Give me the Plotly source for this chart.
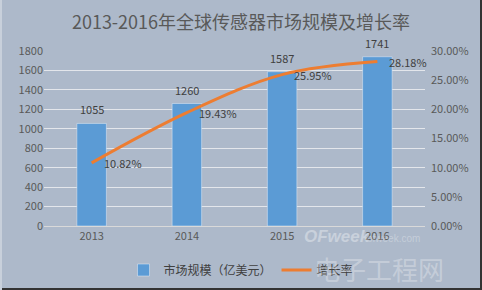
import plotly.graph_objects as go

years = ["2013", "2014", "2015", "2016"]
market = [1055, 1260, 1587, 1741]
growth = [0.1082, 0.1943, 0.2595, 0.2818]
growth_labels = ["10.82%", "19.43%", "25.95%", "28.18%"]

title = "2013-2016年全球传感器市场规模及增长率"
bar_name = "市场规模（亿美元）"
line_name = "增长率"

FONT = "Noto Sans CJK SC, Open Sans, sans-serif"
BG = "#adb9ca"
TXT = "#404040"
TICK = "#595959"
W, H = 482, 290
ML, MR, MT, MB = 44, 57, 51, 64
PW, PH = W - ML - MR, H - MT - MB


def px(x):
    return (x - ML) / PW


def py(y):
    return (H - MB - y) / PH


fig = go.Figure()
fig.add_trace(go.Bar(
    x=years, y=market, name=bar_name, marker_color="#5b9bd5",
    width=0.31, yaxis="y",
))
fig.add_trace(go.Scatter(
    x=years, y=growth, name=line_name, mode="lines",
    line=dict(color="#ed7d31", width=3, shape="spline", smoothing=1.0),
    yaxis="y2",
))

annotations = []
for i, v in enumerate(market):
    annotations.append(dict(x=i, y=v, xref="x", yref="y", text=str(v),
                            showarrow=False, yanchor="bottom", yshift=4,
                            font=dict(size=11, color=TXT, family=FONT)))
for i, (v, t) in enumerate(zip(growth, growth_labels)):
    annotations.append(dict(x=i, y=v, xref="x", yref="y2", text=t,
                            showarrow=False, xanchor="left", xshift=10,
                            yanchor="middle",
                            font=dict(size=11, color=TXT, family=FONT)))

# watermark
annotations += [
    dict(x=px(302), y=py(236), xref="paper", yref="paper", text="<b><i>OFweek</i></b>",
         showarrow=False, xanchor="left", yanchor="middle",
         font=dict(size=17, color="rgba(255,255,255,0.35)", family="Liberation Sans")),
    dict(x=px(365), y=py(238), xref="paper", yref="paper", text="ofweek.com",
         showarrow=False, xanchor="left", yanchor="middle",
         font=dict(size=10, color="rgba(255,255,255,0.3)", family="Liberation Sans")),
    dict(x=px(312), y=py(268), xref="paper", yref="paper", text="电子工程网",
         showarrow=False, xanchor="left", yanchor="middle",
         font=dict(size=26, color="rgba(255,255,255,0.3)", family=FONT)),
]

fig.update_layout(
    width=W, height=H,
    margin=dict(l=ML, r=MR, t=MT, b=MB),
    paper_bgcolor=BG, plot_bgcolor=BG,
    font=dict(family=FONT, size=11, color=TICK),
    title=dict(text=title, x=0.5, xanchor="center", xref="container",
               y=1 - 23 / H, yref="container", yanchor="middle",
               font=dict(size=18, color=TICK, family=FONT)),
    xaxis=dict(type="category", range=[-0.5, len(years) - 0.5],
               showgrid=False, showline=True,
               linecolor="#d9d9d9", linewidth=1, ticks="",
               tickfont=dict(size=11, color=TICK)),
    yaxis=dict(range=[0, 1800], dtick=200, showgrid=True,
               gridcolor="#e3e6eb", gridwidth=1, zeroline=False,
               showline=False, ticks="", tickfont=dict(size=11, color=TICK)),
    yaxis2=dict(range=[0, 0.30], dtick=0.05, tickformat=".2%",
                overlaying="y", side="right", showgrid=False,
                zeroline=False, showline=False, ticks="",
                ticklabelstandoff=5,
                tickfont=dict(size=11, color=TICK)),
    legend=dict(orientation="h", x=0.5, xanchor="center", xref="container",
                y=1 - 270 / H, yref="container", yanchor="middle",
                font=dict(size=12, color=TXT, family=FONT),
                bgcolor="rgba(0,0,0,0)"),
    annotations=annotations,
    shapes=[
        dict(type="line", xref="paper", yref="paper", layer="above",
             x0=px(W - 1), x1=px(W - 1), y0=py(0), y1=py(H),
             line=dict(color="#333333", width=2)),
        dict(type="line", xref="paper", yref="paper", layer="above",
             x0=px(0), x1=px(W), y0=py(H - 1), y1=py(H - 1),
             line=dict(color="#333333", width=2)),
        dict(type="line", xref="paper", yref="paper", layer="above",
             x0=px(1), x1=px(1), y0=py(0), y1=py(H),
             line=dict(color="#c8d0db", width=2)),
    ],
    bargap=0.69,
)

fig.write_html("out.html")
